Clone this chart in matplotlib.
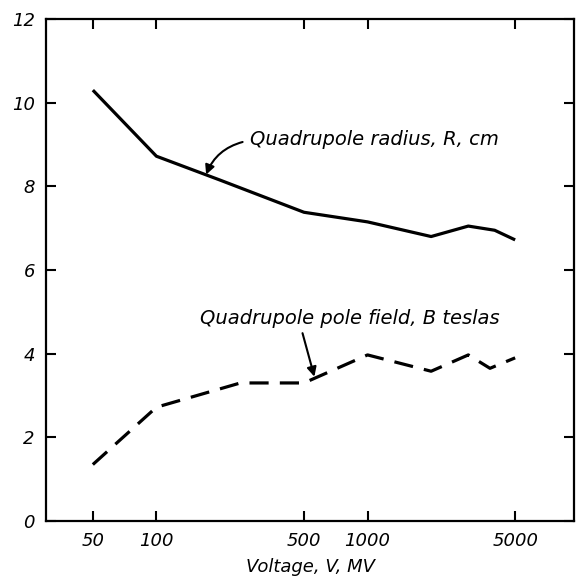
import matplotlib
matplotlib.use("Agg")
import matplotlib.pyplot as plt
from matplotlib.ticker import FixedLocator, FixedFormatter, NullLocator

# Data
radius_v = [50, 100, 200, 500, 1000, 2000, 3000, 4000, 5000]
radius_cm = [10.3, 8.72, 8.15, 7.38, 7.15, 6.8, 7.05, 6.95, 6.72]
field_v = [50, 100, 250, 500, 1000, 2000, 3000, 3800, 5000]
field_t = [1.35, 2.72, 3.3, 3.3, 3.97, 3.58, 3.97, 3.65, 3.9]
x_ticks = [50, 100, 500, 1000, 5000]
x_tick_labels = ["50", "100", "500", "1000", "5000"]
y_ticks = [0, 2, 4, 6, 8, 10, 12]
y_tick_labels = ["0", "2", "4", "6", "8", "10", "12"]

plt.rcParams['font.family'] = ['DejaVu Sans']
plt.rcParams['font.style'] = 'italic'

fig = plt.figure(figsize=(5.78, 5.81), dpi=100)
ax = fig.add_axes([46/578, 60/581, 528/578, 502/581])

ax.plot(radius_v, radius_cm, color='black', lw=2.3, solid_capstyle='butt')
ax.plot(field_v, field_t, color='black', lw=2.3, dashes=(6, 3.5))

ax.set_xscale('log')
ax.set_xlim(30, 9500)
ax.set_ylim(0, 12)
ax.xaxis.set_major_locator(FixedLocator(x_ticks))
ax.xaxis.set_major_formatter(FixedFormatter(x_tick_labels))
ax.xaxis.set_minor_locator(NullLocator())
ax.yaxis.set_major_locator(FixedLocator(y_ticks))
ax.yaxis.set_major_formatter(FixedFormatter(y_tick_labels))

for s in ax.spines.values():
    s.set_linewidth(1.6)
ax.tick_params(which='major', direction='in', length=7, width=1.5,
               top=True, right=True, labelsize=13, pad=8)
for lab in ax.get_xticklabels() + ax.get_yticklabels():
    lab.set_fontstyle('italic')

ax.set_xlabel('Voltage, V, MV', fontsize=13, style='italic', labelpad=6)

ax.text(276, 9.11, 'Quadrupole radius, R, cm', fontsize=14, style='italic',
        va='center', ha='left')
ax.annotate('', xy=(172, 8.28), xytext=(256, 9.06),
            arrowprops=dict(arrowstyle='-|>', color='black', lw=1.5,
                            mutation_scale=14,
                            connectionstyle='arc3,rad=0.25', shrinkA=0, shrinkB=0))

ax.text(160, 4.83, 'Quadrupole pole field, B teslas', fontsize=14, style='italic',
        va='center', ha='left')
ax.annotate('', xy=(560, 3.45), xytext=(492, 4.49),
            arrowprops=dict(arrowstyle='-|>', color='black', lw=1.5,
                            mutation_scale=14, shrinkA=0, shrinkB=0))

fig.savefig('out.png', dpi=100)
